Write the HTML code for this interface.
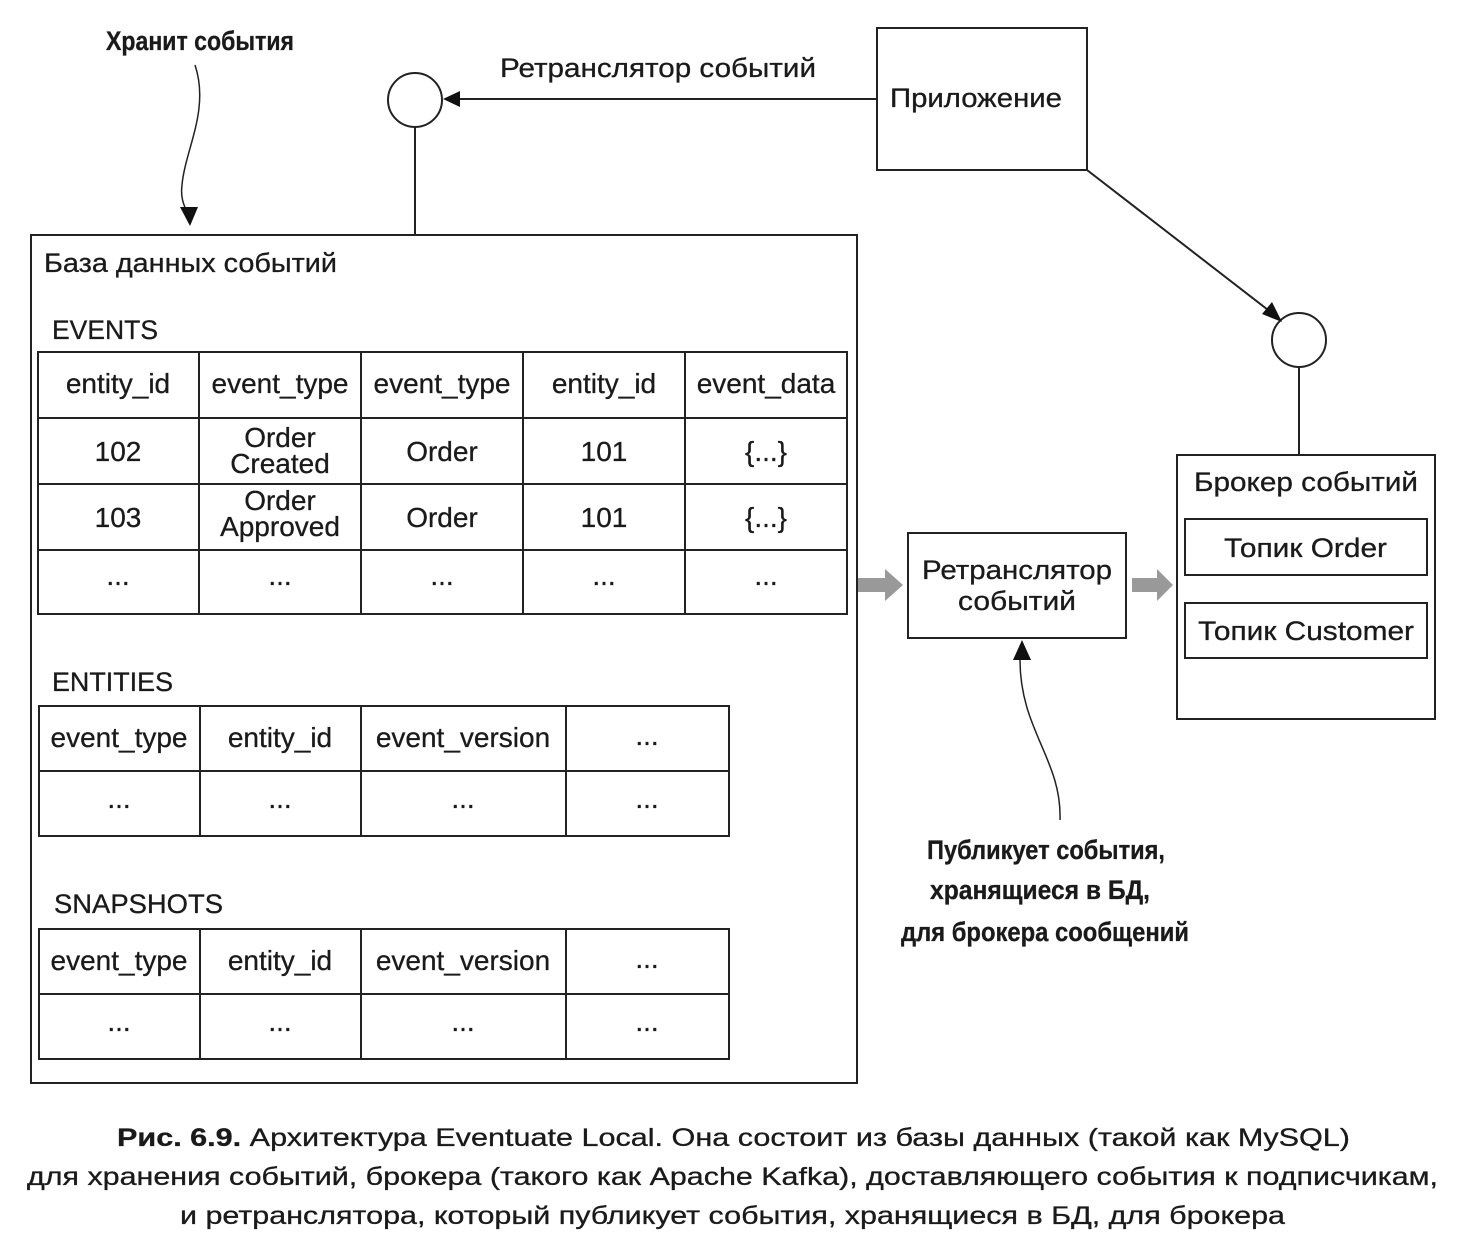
<!DOCTYPE html>
<html><head><meta charset="utf-8"><style>
html,body{margin:0;padding:0;background:#fff;}
svg{display:block;}
text{font-family:"Liberation Sans","DejaVu Sans",sans-serif;fill:#1a1a1a;stroke:#1a1a1a;stroke-width:0.3;}
.b{font-weight:bold;}
</style></head><body>
<svg width="1467" height="1240" viewBox="0 0 1467 1240" xmlns="http://www.w3.org/2000/svg">
<g stroke="#222" stroke-width="2" fill="none">
<rect x="31" y="235" width="826" height="848"/>
<circle cx="415" cy="100" r="27"/>
<line x1="415" y1="127" x2="415" y2="235"/>
<rect x="877" y="28" width="210" height="142"/>
<line x1="877" y1="99" x2="458" y2="99"/>
<line x1="1087" y1="170" x2="1272" y2="313"/>
<circle cx="1299" cy="340" r="27"/>
<line x1="1299" y1="367" x2="1299" y2="455"/>
<rect x="1177" y="455" width="258" height="264"/>
<rect x="1185" y="519" width="242" height="56"/>
<rect x="1185" y="603" width="242" height="55"/>
<rect x="908" y="533" width="218" height="105"/>
<rect x="38" y="352" width="809" height="262"/>
<line x1="38" y1="418" x2="847" y2="418"/><line x1="38" y1="484" x2="847" y2="484"/><line x1="38" y1="550" x2="847" y2="550"/>
<line x1="199" y1="352" x2="199" y2="614"/><line x1="361" y1="352" x2="361" y2="614"/><line x1="523" y1="352" x2="523" y2="614"/><line x1="685" y1="352" x2="685" y2="614"/>
<rect x="39" y="706" width="690" height="130"/>
<line x1="39" y1="771" x2="729" y2="771"/>
<line x1="200" y1="706" x2="200" y2="836"/><line x1="361" y1="706" x2="361" y2="836"/><line x1="566" y1="706" x2="566" y2="836"/>
<rect x="39" y="929" width="690" height="130"/>
<line x1="39" y1="994" x2="729" y2="994"/>
<line x1="200" y1="929" x2="200" y2="1059"/><line x1="361" y1="929" x2="361" y2="1059"/><line x1="566" y1="929" x2="566" y2="1059"/>
<path d="M195 65 C210 110 185 150 182 185 C180 200 186 210 188 212" stroke-width="1.5"/>
<path d="M1060 820 C1062 760 1020 730 1020 660" stroke-width="1.5"/>
</g>
<g fill="#111">
<polygon points="443,99 460,91 460,107"/>
<polygon points="1282,322 1262,314 1272,302"/>
<polygon points="190,226 180,207 198,207"/>
<polygon points="1022,640 1013,660 1031,660"/>
</g>
<g fill="#999">
<polygon points="858,578 885,578 885,569 903,585 885,601 885,592 858,592"/>
<polygon points="1132,578 1157,578 1157,569 1173,585 1157,601 1157,592 1132,592"/>
</g>
<g font-size="27">
<text x="44" y="272" textLength="293" lengthAdjust="spacingAndGlyphs">База данных событий</text>
<text x="52" y="339" textLength="106" lengthAdjust="spacingAndGlyphs">EVENTS</text>
<text x="52" y="691" textLength="121" lengthAdjust="spacingAndGlyphs">ENTITIES</text>
<text x="54" y="913" textLength="169" lengthAdjust="spacingAndGlyphs">SNAPSHOTS</text>
<text x="500" y="77" textLength="316" lengthAdjust="spacingAndGlyphs">Ретранслятор событий</text>
<text x="890" y="107" textLength="172" lengthAdjust="spacingAndGlyphs">Приложение</text>
<text x="1194" y="491" textLength="224" lengthAdjust="spacingAndGlyphs">Брокер событий</text>
<text x="1224" y="557" textLength="163" lengthAdjust="spacingAndGlyphs">Топик Order</text>
<text x="1198" y="640" textLength="216" lengthAdjust="spacingAndGlyphs">Топик Customer</text>
<text x="922" y="579" textLength="190" lengthAdjust="spacingAndGlyphs">Ретранслятор</text>
<text x="958" y="610" textLength="118" lengthAdjust="spacingAndGlyphs">событий</text>
</g>
<g font-size="28" text-anchor="middle">
<text x="118" y="393">entity_id</text><text x="280" y="393">event_type</text><text x="442" y="393">event_type</text><text x="604" y="393">entity_id</text><text x="766" y="393">event_data</text>
<text x="118" y="461">102</text><text x="280" y="447">Order</text><text x="280" y="473">Created</text><text x="442" y="461">Order</text><text x="604" y="461">101</text><text x="766" y="461">{...}</text>
<text x="118" y="527">103</text><text x="280" y="510">Order</text><text x="280" y="536">Approved</text><text x="442" y="527">Order</text><text x="604" y="527">101</text><text x="766" y="527">{...}</text>
<text x="118" y="585">...</text><text x="280" y="585">...</text><text x="442" y="585">...</text><text x="604" y="585">...</text><text x="766" y="585">...</text>
<text x="119" y="747">event_type</text><text x="280" y="747">entity_id</text><text x="463" y="747">event_version</text><text x="647" y="745">...</text>
<text x="119" y="808">...</text><text x="280" y="808">...</text><text x="463" y="808">...</text><text x="647" y="808">...</text>
<text x="119" y="970">event_type</text><text x="280" y="970">entity_id</text><text x="463" y="970">event_version</text><text x="647" y="968">...</text>
<text x="119" y="1031">...</text><text x="280" y="1031">...</text><text x="463" y="1031">...</text><text x="647" y="1031">...</text>
</g>
<g class="b" font-size="27">
<text x="106" y="50" textLength="188" lengthAdjust="spacingAndGlyphs">Хранит события</text>
<text x="927" y="859" textLength="238" lengthAdjust="spacingAndGlyphs">Публикует события,</text>
<text x="930" y="899" textLength="220" lengthAdjust="spacingAndGlyphs">хранящиеся в БД,</text>
<text x="901" y="941" textLength="288" lengthAdjust="spacingAndGlyphs">для брокера сообщений</text>
</g>
<g font-size="25">
<text x="117" y="1146" textLength="1233" lengthAdjust="spacingAndGlyphs"><tspan font-weight="bold">Рис. 6.9.</tspan> Архитектура Eventuate Local. Она состоит из базы данных (такой как MySQL)</text>
<text x="27" y="1185" textLength="1411" lengthAdjust="spacingAndGlyphs">для хранения событий, брокера (такого как Apache Kafka), доставляющего события к подписчикам,</text>
<text x="180" y="1224" textLength="1105" lengthAdjust="spacingAndGlyphs">и ретранслятора, который публикует события, хранящиеся в БД, для брокера</text>
</g>
</svg>
</body></html>
